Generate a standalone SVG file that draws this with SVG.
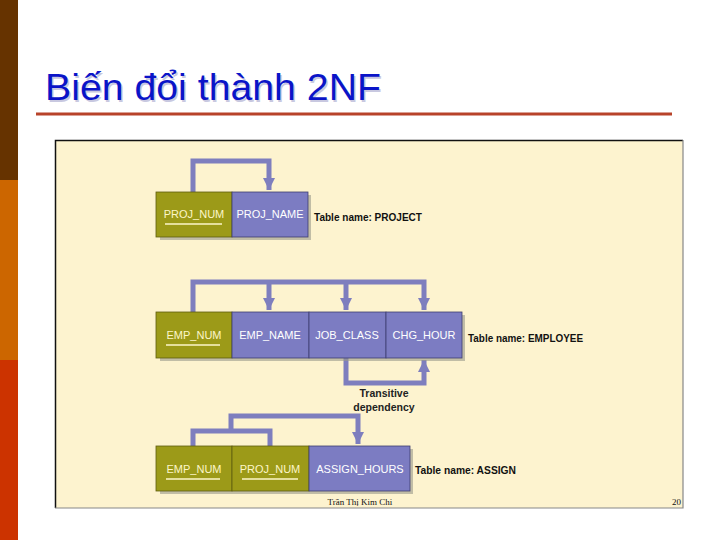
<svg xmlns="http://www.w3.org/2000/svg" width="720" height="540" viewBox="0 0 720 540">
<defs>
<style>
.pk{fill:#9C9A18;stroke:#5e5c10;stroke-width:0.8}
.at{fill:#7C7CC2;stroke:#3e3e70;stroke-width:0.8}
.sh{fill:#9a9a8a;opacity:0.6}
.lbl{font-family:"Liberation Sans",Arial,sans-serif;font-size:11px;fill:#ffffff;text-anchor:middle}
.pkl{fill:#fdf6c8}
.ul{stroke:#fdf6c8;stroke-width:1.5}
.tn{font-family:"Liberation Sans",Arial,sans-serif;font-size:10.5px;font-weight:bold;fill:#111}
.con{fill:none;stroke:#7E7EBE;stroke-width:5;stroke-linejoin:miter}
.dep{font-family:"Liberation Sans",Arial,sans-serif;font-size:10.5px;font-weight:bold;fill:#222;text-anchor:middle}
.ttl{font-family:"Liberation Sans",Arial,sans-serif;font-size:36px}
</style>
<marker id="ah" markerUnits="userSpaceOnUse" markerWidth="14" markerHeight="12" refX="12" refY="6" orient="auto">
<path d="M0,0 L12,6 L0,12 Z" fill="#7E7EBE"/>
</marker>
</defs>
<rect width="720" height="540" fill="#ffffff"/>
<rect x="0" y="0" width="18" height="180" fill="#663300"/>
<rect x="0" y="180" width="18" height="180" fill="#CC6600"/>
<rect x="0" y="360" width="18" height="180" fill="#CC3300"/>
<text class="ttl" x="46.5" y="101.5" fill="#c8c8e0" textLength="336" lengthAdjust="spacingAndGlyphs">Biến đổi thành 2NF</text>
<text class="ttl" x="45" y="100" fill="#0A14C8" textLength="336" lengthAdjust="spacingAndGlyphs">Biến đổi thành 2NF</text>
<line x1="36" y1="114" x2="672" y2="114" stroke="#B8432A" stroke-width="3"/>
<rect x="55" y="140" width="628" height="368" fill="#FDF3CF"/>
<polyline points="55.5,508 55.5,140.5 683,140.5" fill="none" stroke="#111" stroke-width="1.5"/>
<polyline points="55,508 683,508 683,140" fill="none" stroke="#888" stroke-width="1.2"/>

<g id="connectors">
<polyline class="con" points="193,192 193,161 269,161 269,190" marker-end="url(#ah)"/>
<polyline class="con" points="193,312 193,282 424,282 424,310" marker-end="url(#ah)"/>
<line class="con" x1="269" y1="282" x2="269" y2="310" marker-end="url(#ah)"/>
<line class="con" x1="346" y1="282" x2="346" y2="310" marker-end="url(#ah)"/>
<polyline class="con" points="346,358 346,383 424,383 424,360" marker-end="url(#ah)"/>
<polyline class="con" points="193,446 193,431 270,431 270,446"/>
<polyline class="con" points="231,431 231,416 358,416 358,444" marker-end="url(#ah)"/>
</g>

<g id="project">
<rect class="sh" x="160" y="195" width="151" height="45"/>
<rect class="pk" x="156" y="192" width="76" height="45"/>
<rect class="at" x="232" y="192" width="76" height="45"/>
<text class="lbl pkl" x="194" y="218">PROJ_NUM</text>
<line class="ul" x1="165" y1="224" x2="222" y2="224"/>
<text class="lbl" x="270" y="218">PROJ_NAME</text>
<text class="tn" x="314" y="221" textLength="108" lengthAdjust="spacingAndGlyphs">Table name: PROJECT</text>
</g>

<g id="employee">
<rect class="sh" x="160" y="315" width="305" height="46"/>
<rect class="pk" x="156" y="312" width="76" height="46"/>
<rect class="at" x="232" y="312" width="77" height="46"/>
<rect class="at" x="309" y="312" width="77" height="46"/>
<rect class="at" x="386" y="312" width="76" height="46"/>
<text class="lbl pkl" x="194" y="339">EMP_NUM</text>
<line class="ul" x1="166" y1="345" x2="220" y2="345"/>
<text class="lbl" x="270" y="339">EMP_NAME</text>
<text class="lbl" x="347" y="339">JOB_CLASS</text>
<text class="lbl" x="424" y="339">CHG_HOUR</text>
<text class="tn" x="468" y="342" textLength="115" lengthAdjust="spacingAndGlyphs">Table name: EMPLOYEE</text>
<text class="dep" x="384" y="397">Transitive</text>
<text class="dep" x="384" y="411">dependency</text>
</g>

<g id="assign">
<rect class="sh" x="160" y="449" width="253" height="45"/>
<rect class="pk" x="156" y="446" width="76" height="45"/>
<rect class="pk" x="232" y="446" width="77" height="45"/>
<rect class="at" x="309" y="446" width="101" height="45"/>
<text class="lbl pkl" x="194" y="473">EMP_NUM</text>
<line class="ul" x1="166" y1="479" x2="220" y2="479"/>
<text class="lbl pkl" x="270" y="473">PROJ_NUM</text>
<line class="ul" x1="242" y1="479" x2="298" y2="479"/>
<text class="lbl" x="360" y="473">ASSIGN_HOURS</text>
<text class="tn" x="415" y="474" textLength="101" lengthAdjust="spacingAndGlyphs">Table name: ASSIGN</text>
</g>

<text x="360" y="505" font-family="Liberation Serif,serif" font-size="9" fill="#111" text-anchor="middle">Trần Thị Kim Chi</text>
<text x="672" y="505" font-family="Liberation Serif,serif" font-size="9" fill="#111">20</text>
</svg>
